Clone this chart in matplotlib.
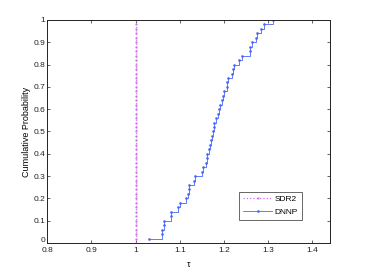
import numpy as np
import matplotlib
matplotlib.use("Agg")
import matplotlib.pyplot as plt
import matplotlib.transforms as mtransforms

plt.rcParams['font.family'] = ['Liberation Sans', 'DejaVu Sans']

n_problems = 50
prob = np.arange(1, n_problems + 1) / n_problems

tau_sdr2 = [1.0] * n_problems
tau_dnnp = [1.03, 1.06, 1.06, 1.065, 1.065, 1.08, 1.08, 1.095, 1.10, 1.115,
            1.118, 1.12, 1.12, 1.132, 1.135, 1.15, 1.152, 1.16, 1.162, 1.162,
            1.165, 1.168, 1.17, 1.172, 1.175, 1.177, 1.178, 1.182, 1.186, 1.188,
            1.19, 1.195, 1.198, 1.20, 1.206, 1.208, 1.21, 1.218, 1.22, 1.222,
            1.234, 1.24, 1.259, 1.26, 1.263, 1.272, 1.274, 1.283, 1.29, 1.31]

xticks = [0.8, 0.9, 1.0, 1.1, 1.2, 1.3, 1.4]
xticklabels = ['0.8', '0.9', '1', '1.1', '1.2', '1.3', '1.4']
yticks = [0, 0.1, 0.2, 0.3, 0.4, 0.5, 0.6, 0.7, 0.8, 0.9, 1.0]
yticklabels = ['0', '0.1', '0.2', '0.3', '0.4', '0.5', '0.6', '0.7', '0.8', '0.9', '1']

fig = plt.figure(figsize=(3.65, 2.75), dpi=100)
ax = fig.add_axes([0.1296, 0.1164, 0.7744, 0.8109])

ax.plot([1.0] + tau_sdr2, [0.0] + list(prob), color='#d070f0', linestyle=':',
        linewidth=0.9, marker='.', markersize=1.2, drawstyle='steps-post', label='SDR2')
ax.plot(tau_dnnp, prob, color='#4a66ff', linestyle='-', linewidth=0.6,
        marker='.', markersize=1.8, drawstyle='steps-post', label='DNNP')

ax.set_xlim(0.8, 1.44)
ax.set_ylim(0, 1)
ax.set_xticks(xticks)
ax.set_xticklabels(xticklabels)
ax.set_yticks(yticks)
ax.set_yticklabels(yticklabels)
ax.tick_params(direction='in', top=True, right=True, labelsize=6, length=2,
               width=0.5, pad=1.5, colors='#222222')
ax.tick_params(axis='x', pad=3)
for s in ax.spines.values():
    s.set_linewidth(0.7)
    s.set_color('#222222')

# nudge the "0" y tick label up slightly, as in the reference
zero_lbl = ax.get_yticklabels()[0]
zero_lbl.set_transform(zero_lbl.get_transform() +
                       mtransforms.ScaledTranslation(0, 3 / 100, fig.dpi_scale_trans))

ax.set_xlabel('τ', fontsize=6.5, labelpad=4)
ax.set_ylabel('Cumulative Probability', fontsize=6.5, labelpad=2)

leg = ax.legend(loc='lower right', bbox_to_anchor=(0.915, 0.085), fontsize=6,
                frameon=True, fancybox=False, edgecolor='#222222',
                handlelength=3.5, borderpad=0.45, labelspacing=0.6, handletextpad=0.3)
leg.get_frame().set_linewidth(0.6)

fig.savefig('out.png', dpi=100)
